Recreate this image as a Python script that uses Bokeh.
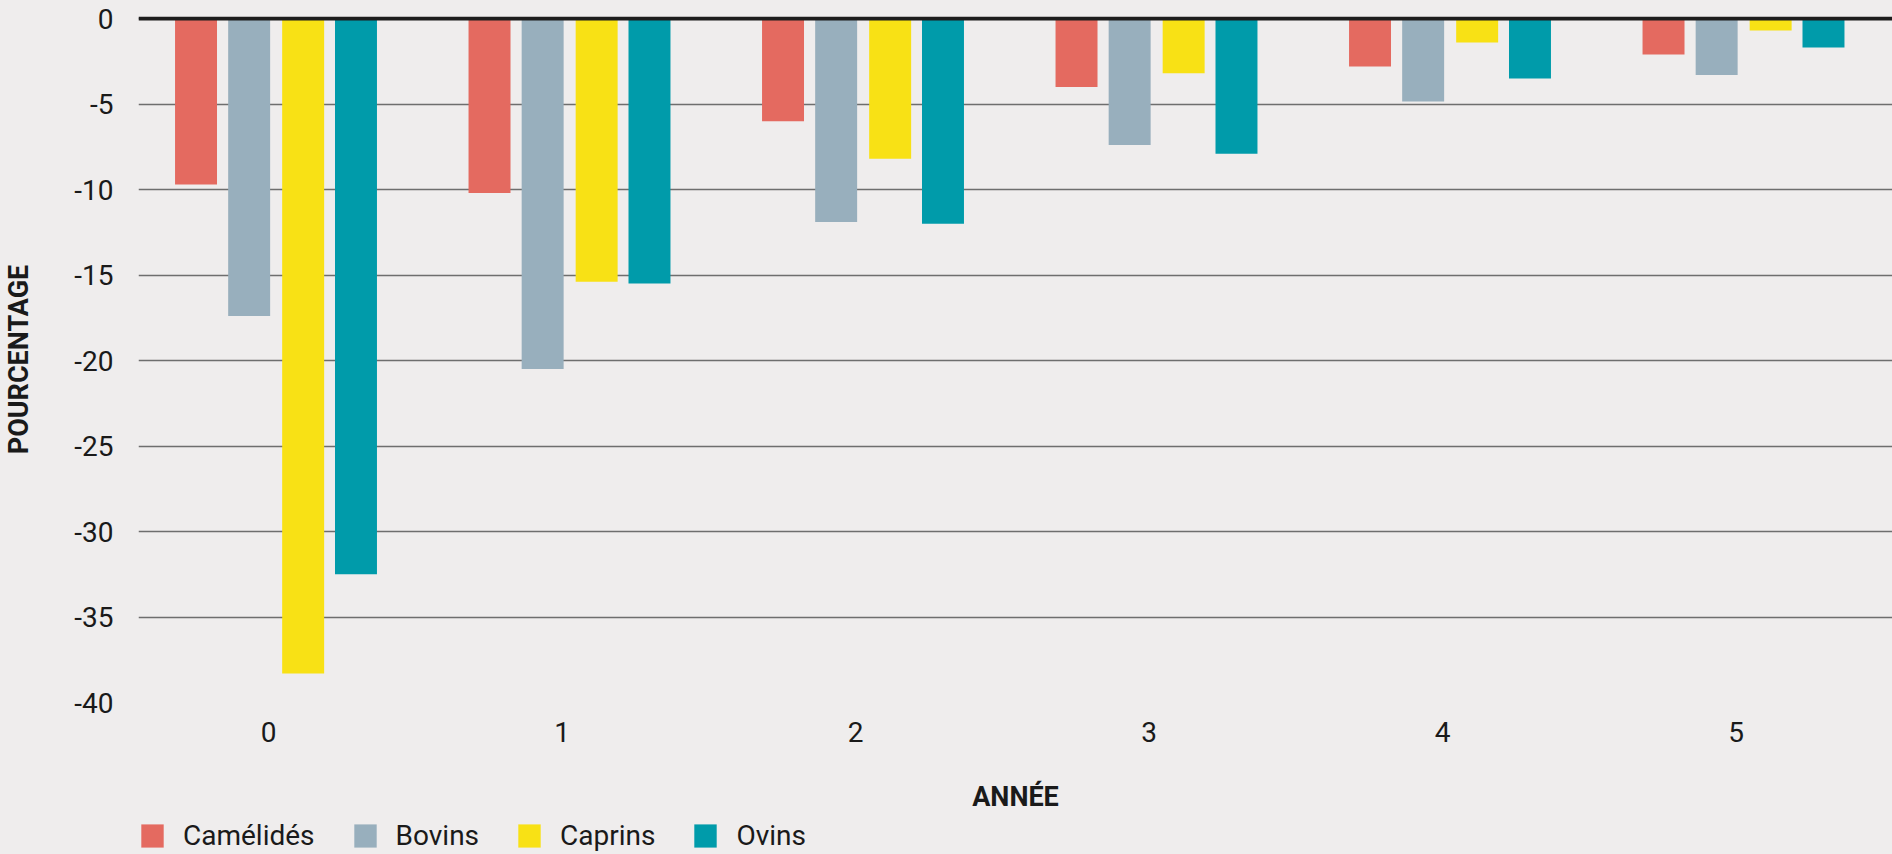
from bokeh.plotting import figure
from bokeh.layouts import column
from bokeh.models import Range1d, FixedTicker, Span, Legend, LegendItem, ColumnDataSource, Label
from bokeh.embed import file_html
from bokeh.resources import INLINE

# ---- data ----
years = [0, 1, 2, 3, 4, 5]
year_labels = ["0", "1", "2", "3", "4", "5"]
series_names = ["Camélidés", "Bovins", "Caprins", "Ovins"]
camelides = [-9.7, -10.2, -6.0, -4.0, -2.8, -2.1]
bovins = [-17.4, -20.5, -11.9, -7.4, -4.85, -3.3]
caprins = [-38.3, -15.4, -8.2, -3.2, -1.4, -0.7]
ovins = [-32.5, -15.5, -12.0, -7.9, -3.5, -1.7]
y_ticks = [-40, -35, -30, -25, -20, -15, -10, -5, 0]
y_tick_labels = ["-40", "-35", "-30", "-25", "-20", "-15", "-10", "-5", "0"]
x_title = "ANNÉE"
y_title = "POURCENTAGE"

# ---- style ----
BG = "#efeded"
COLORS = ["#e46a60", "#98afbd", "#f8e115", "#009baa"]
OFFSETS = [-0.247, -0.066, 0.118, 0.298]
BAR_W = 0.143
FONT = "Roboto"
TXT = "#1a1a1a"
W = 1892
LEFT = 138
FRAME_W = W - LEFT

p = figure(width=W, height=760,
           x_range=Range1d(-0.443, -0.443 + FRAME_W / 293.5), y_range=Range1d(-40, 0.12),
           output_backend="svg", toolbar_location=None,
           min_border_left=LEFT, min_border_right=0, min_border_top=16,
           min_border_bottom=58,
           background_fill_color=BG, border_fill_color=BG,
           outline_line_color=None)

for vals, col, off in zip([camelides, bovins, caprins, ovins], COLORS, OFFSETS):
    src = ColumnDataSource(dict(x=[y + off for y in years], top=vals))
    p.vbar(x="x", top="top", bottom=0, width=BAR_W, source=src,
           fill_color=col, line_color=None)

p.add_layout(Span(location=0, dimension="width", line_color="#1d1d1d", line_width=4))

# grids
p.xgrid.grid_line_color = None
p.ygrid.grid_line_color = "#6e6e6e"
p.ygrid.grid_line_width = 1.5
p.ygrid.level = "underlay"

# axes
p.yaxis.ticker = FixedTicker(ticks=y_ticks)
p.yaxis.major_label_overrides = {t: l for t, l in zip(y_ticks, y_tick_labels)}
p.xaxis.ticker = FixedTicker(ticks=years)
p.xaxis.major_label_overrides = {y: l for y, l in zip(years, year_labels)}
for ax in (p.xaxis[0], p.yaxis[0]):
    ax.axis_line_color = None
    ax.major_tick_line_color = None
    ax.minor_tick_line_color = None
    ax.major_label_text_font = FONT
    ax.major_label_text_font_size = "28px"
    ax.major_label_text_color = TXT
    ax.axis_label_text_font = FONT
    ax.axis_label_text_font_style = "bold"
    ax.axis_label_text_color = TXT

p.xaxis.major_label_standoff = 13

p.yaxis.axis_label = y_title
p.yaxis.axis_label_text_font_size = "27px"
p.yaxis.major_label_standoff = 19
p.yaxis.axis_label_standoff = 36

# ---- strip below: x-axis title + legend ----
STRIP_H = 94
lg = figure(width=W, height=STRIP_H, x_range=Range1d(0, FRAME_W), y_range=Range1d(0, STRIP_H),
            output_backend="svg", toolbar_location=None,
            x_axis_type=None, y_axis_type=None,
            min_border_left=0, min_border_right=0, min_border_top=0, min_border_bottom=0,
            background_fill_color=BG, border_fill_color=BG, outline_line_color=None)
lg.xgrid.grid_line_color = None
lg.ygrid.grid_line_color = None

lg.add_layout(Label(x=FRAME_W / 2, y=58, text=x_title, text_align="center",
                    text_baseline="middle", text_font=FONT, text_font_style="bold",
                    text_font_size="27px", text_color=TXT))

items = []
for name, col in zip(series_names, COLORS):
    # legend key only: a bar kept outside the strip's visible range
    r = lg.vbar(x=[-50], top=[-50], width=1, fill_color=col, line_color=None)
    items.append(LegendItem(label=name, renderers=[r]))
legend = Legend(items=items, orientation="horizontal", location=(0, 2),
                glyph_width=28, glyph_height=29, label_standoff=17, spacing=36,
                padding=0, margin=0, border_line_color=None,
                background_fill_alpha=0,
                label_text_font=FONT, label_text_font_size="28px",
                label_text_color=TXT)
lg.add_layout(legend, "center")

layout = column(p, lg, spacing=0)
html = file_html(layout, INLINE)
html = html.replace("</head>", "<style>html, body { background-color: #efeded; }</style>\n</head>", 1)
open("out.html", "w").write(html)
